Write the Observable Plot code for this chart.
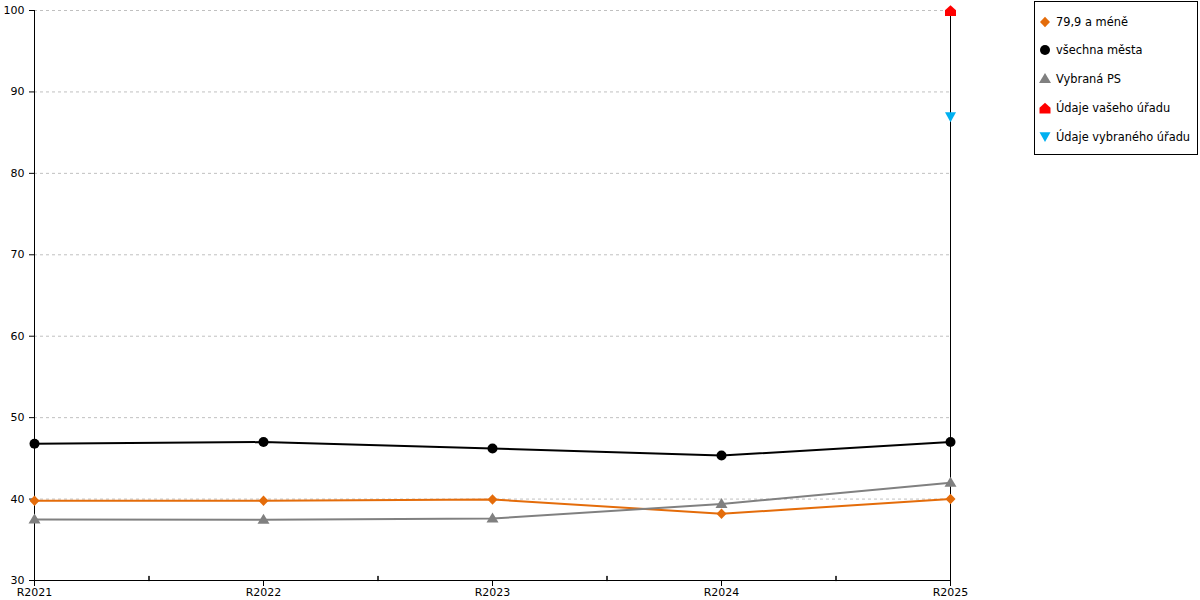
<!DOCTYPE html>
<html><head><meta charset="utf-8">
<script src="https://cdn.jsdelivr.net/npm/d3@7"></script>
<script src="https://cdn.jsdelivr.net/npm/@observablehq/plot@0.6"></script>
<style>
body{margin:0;background:#fff;font-family:"DejaVu Sans",Verdana,sans-serif;}
#wrap{position:relative;width:1200px;height:600px;}
#legend{position:absolute;left:1034px;top:1px;width:162px;height:152px;border:1px solid #000;background:#fff;font-size:11.4px;color:#000;}
.item{position:absolute;left:3px;height:16px;line-height:16px;display:flex;align-items:center;white-space:nowrap;}
.item svg{margin-right:4px;}
</style></head><body><div id="wrap"><div id="chart"></div><div id="legend"></div></div>
<script>
const categories = ["R2021", "R2022", "R2023", "R2024", "R2025"];
const seriesNames = ["79,9 a méně", "všechna města", "Vybraná PS", "Údaje vašeho úřadu", "Údaje vybraného úřadu"];
const seriesColors = ["#E46C0A", "#000000", "#808080", "#FF0000", "#00B0F0"];
const valsSmall = [39.8, 39.8, 39.95, 38.2, 40.0];
const valsAll = [46.8, 47.0, 46.2, 45.35, 47.0];
const valsPS = [37.5, 37.45, 37.6, 39.4, 42.0];
const valsOffice = [null, null, null, null, 100];
const valsSelected = [null, null, null, null, 86.9];
const yTicks = [30, 40, 50, 60, 70, 80, 90, 100];
const gridTicks = [40, 50, 60, 70, 80, 90, 100];
const midTicks = [0.5, 1.5, 2.5, 3.5];

// symbols
const symDiamond = {draw(c){c.moveTo(0,-5.3);c.lineTo(5,0);c.lineTo(0,5.3);c.lineTo(-5,0);c.closePath();}};
const symCircle = {draw(c){c.moveTo(5,0);c.arc(0,0,5,0,2*Math.PI);c.closePath();}};
const symTriangle = {draw(c){c.moveTo(0,-6);c.lineTo(6,4);c.lineTo(-6,4);c.closePath();}};
const symHouse = {draw(c){c.moveTo(0,-5.3);c.lineTo(5.5,-0.3);c.lineTo(5.5,5.6);c.lineTo(-5.5,5.6);c.lineTo(-5.5,-0.3);c.closePath();}};
const symDown = {draw(c){c.moveTo(-5.5,-4.8);c.lineTo(5.5,-4.8);c.lineTo(0,5);c.closePath();}};
const seriesSymbols = [symDiamond, symCircle, symTriangle, symHouse, symDown];
const seriesValues = [valsSmall, valsAll, valsPS, valsOffice, valsSelected];

const series = seriesNames.map((name, k) => ({
  name, color: seriesColors[k], symbol: seriesSymbols[k],
  rows: seriesValues[k].map((v, i) => ({i, v})).filter(d => d.v != null)
}));

const tickShape = {draw(c, l){c.moveTo(0,0);c.lineTo(0,-l);}};

const marks = [
  Plot.ruleY(gridTicks, {stroke: "#c0c0c0", strokeDasharray: "3,3"}),
  Plot.ruleY([30], {stroke: "#000"}),
  Plot.ruleX([0, 4], {stroke: "#000"}),
  Plot.axisY({ticks: yTicks, tickSize: 5, tickPadding: 5, label: null, fontSize: 11}),
  Plot.axisX({ticks: [0,1,2,3,4], tickFormat: i => categories[i], tickSize: 6, tickPadding: 2, label: null, fontSize: 11}),
  Plot.vector(midTicks, {x: d => d, frameAnchor: "bottom", length: 4, rotate: 0, anchor: "start", shape: tickShape, stroke: "#000"})
];
series.forEach(s => {
  if (s.rows.length > 1) marks.push(Plot.line(s.rows, {x: "i", y: "v", stroke: s.color, strokeWidth: 2}));
});
series.forEach(s => {
  marks.push(Plot.dot(s.rows, {x: "i", y: "v", symbol: () => s.symbol, fill: s.color, stroke: "none", r: 5}));
});

const chart = Plot.plot({
  width: 1200, height: 600,
  marginLeft: 34, marginRight: 250, marginTop: 10, marginBottom: 20,
  style: {fontFamily: "DejaVu Sans, Verdana, sans-serif", fontSize: "11px", color: "#000", background: "#fff", overflow: "visible"},
  x: {domain: [0, 4]},
  y: {domain: [30, 100]},
  symbol: {type: "identity"},
  marks
});
document.getElementById("chart").appendChild(chart);

// legend
const legend = d3.select("#legend");
const centers = [19.5, 48.3, 77, 106, 134.7];
series.forEach((s, k) => {
  const item = legend.append("div").attr("class", "item").style("top", (centers[k] - 8) + "px");
  const svg = item.append("svg").attr("width", 14).attr("height", 14);
  const p = d3.path();
  s.symbol.draw(p, 25);
  svg.append("path").attr("transform", "translate(7,7)").attr("d", p.toString()).attr("fill", s.color);
  item.append("span").text(s.name);
});
</script></body></html>
